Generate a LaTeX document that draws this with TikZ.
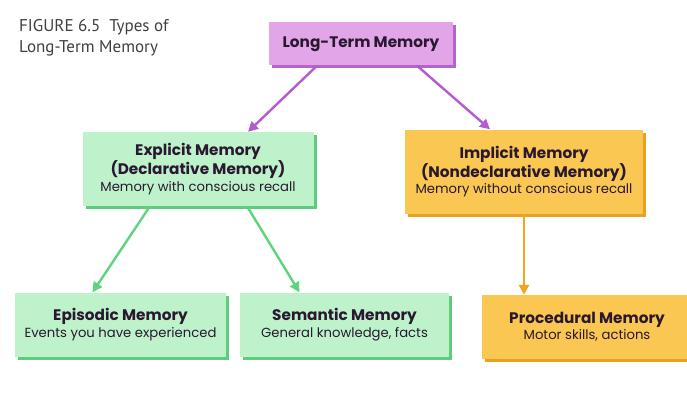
\documentclass[tikz,border=0pt]{standalone}
\usepackage{fontspec}
\setmainfont{Poppins}
\newfontfamily\titlefont{PT Sans}
\usetikzlibrary{arrows.meta,shadows}
\definecolor{pfill}{HTML}{E2A6E8}
\definecolor{pdark}{HTML}{B565C8}
\definecolor{parrow}{HTML}{B25CCF}
\definecolor{gfill}{HTML}{BDF2CB}
\definecolor{gdark}{HTML}{5FCB7E}
\definecolor{garrow}{HTML}{5ED47F}
\definecolor{yfill}{HTML}{F9C752}
\definecolor{ydark}{HTML}{E9A21F}
\definecolor{yarrow}{HTML}{F2A51E}
\definecolor{tcol}{HTML}{2A1830}
\newcommand\bft{\bfseries\fontsize{15.3}{16.5}\selectfont}
\newcommand\rgt{\mdseries\fontsize{13.2}{16.5}\selectfont}
\begin{document}
\begin{tikzpicture}[x=1pt,y=-1pt,
  boxbase/.style={rectangle,align=center,inner sep=2pt,text=tcol,font=\fontsize{13.2}{16.5}\selectfont},
  pbox/.style={boxbase,fill=pfill,drop shadow={shadow xshift=3pt,shadow yshift=-3pt,fill=pdark,opacity=1}},
  gbox/.style={boxbase,fill=gfill,drop shadow={shadow xshift=3pt,shadow yshift=-3pt,fill=gdark,opacity=1}},
  ybox/.style={boxbase,fill=yfill,drop shadow={shadow xshift=3pt,shadow yshift=-3pt,fill=ydark,opacity=1}},
  conn/.style={line width=2.4pt,-{Triangle[length=10pt,width=10pt]}}]
\useasboundingbox (0,0) rectangle (687,409);
\fill[white] (0,0) rectangle (687,409);
\node[anchor=north west,align=left,inner sep=0pt,text=black!75,font=\titlefont\fontsize{17}{21}\selectfont] (title) at (19,19) {FIGURE 6.5\ \ Types of\\Long-Term Memory};
\node[pbox,minimum width=184pt,minimum height=43pt] (ltm) at (361,44) {\bft Long-Term Memory};
\node[gbox,minimum width=231pt,minimum height=74pt] (exp) at (198,169) {\bft Explicit Memory\\\bft (Declarative Memory)\\\rgt Memory with conscious recall};
\node[ybox,minimum width=238pt,minimum height=84pt] (imp) at (524,171.5) {\bft Implicit Memory\\\bft (Nondeclarative Memory)\\\rgt Memory without conscious recall};
\node[gbox,minimum width=211pt,minimum height=64pt] (epi) at (120.5,324.5) {\bft Episodic Memory\\\rgt Events you have experienced};
\node[gbox,minimum width=209pt,minimum height=64pt] (sem) at (344.5,324.5) {\bft Semantic Memory\\\rgt General knowledge, facts};
\node[ybox,minimum width=210pt,minimum height=64pt] (pro) at (587,327) {\bft Procedural Memory\\\rgt Motor skills, actions};
\draw[conn,parrow] ([xshift=-44pt]ltm.south) -- ([xshift=50pt]exp.north);
\draw[conn,parrow] ([xshift=56pt]ltm.south) -- ([xshift=-34pt]imp.north);
\draw[conn,garrow] ([xshift=-48pt]exp.south) -- ([xshift=-28pt]epi.north);
\draw[conn,garrow] ([xshift=49pt]exp.south) -- ([xshift=-45pt]sem.north);
\draw[conn,yarrow] (imp.south) -- (imp.south |- pro.north);
\end{tikzpicture}
\end{document}
